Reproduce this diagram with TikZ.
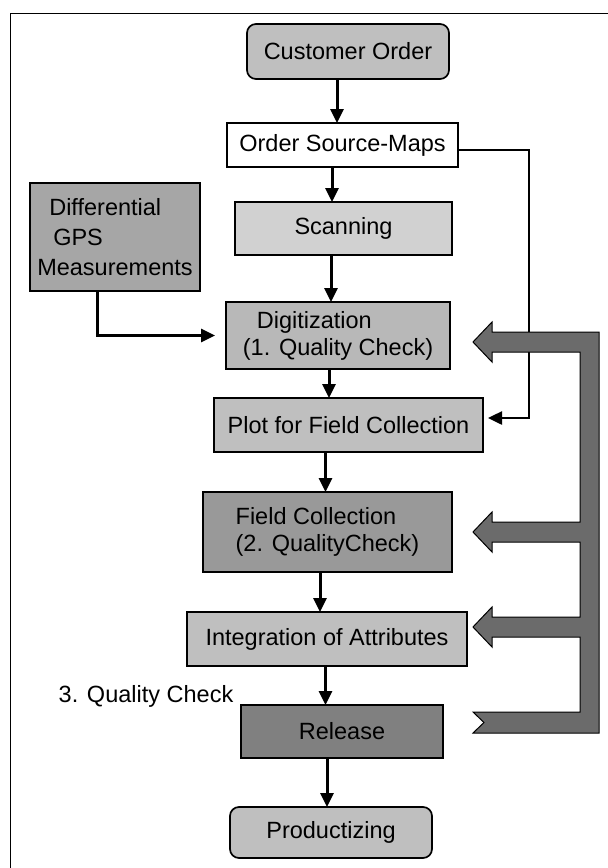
\documentclass[tikz,border=0pt]{standalone}
\usepackage{fontspec}
\setmainfont{Liberation Sans}
\usetikzlibrary{arrows.meta}
\begin{document}
\begin{tikzpicture}[x=1pt,y=-1pt,
  box/.style={draw=black,line width=1.7pt,rectangle,inner sep=0pt,outer sep=0pt,
    font=\fontsize{23.5}{27}\selectfont,text=black},
  rbox/.style={box,rounded corners=9pt},
  arr/.style={line width=3pt,-{Triangle[length=14pt,width=13pt]}},
  bigarrow/.style={draw=black,line width=1pt,fill=black!58}
]
\useasboundingbox (0,0) rectangle (608,868);
% frame
\draw[line width=1.5pt] (10.5,872) -- (10.5,13.3) -- (612,13.3);

% nodes
\node[rbox,fill=black!25,minimum width=202pt,minimum height=55pt] (cust) at (348,51.5) {Customer Order};
\node[box,fill=white,minimum width=231pt,minimum height=44pt] (osm) at (342.5,145) {Order Source-Maps};
\node[box,fill=black!18,minimum width=217pt,minimum height=53pt] (scan) at (343.5,228.5) {Scanning};
\node[box,fill=black!35,minimum width=170pt,minimum height=108pt,align=left,
  font=\fontsize{23.5}{30}\selectfont] (gps) at (115,237)
  {\hspace*{12pt}Differential\\\hspace*{16pt}GPS\\Measurements};
\node[box,fill=black!28,minimum width=224pt,minimum height=67pt,align=left] (dig) at (338,335.5)
  {\hspace*{14pt}Digitization\\(1. Quality Check)};
\node[box,fill=black!25,minimum width=269pt,minimum height=54pt] (plot) at (348.5,425) {Plot for Field Collection};
\node[box,fill=black!40,minimum width=249pt,minimum height=80pt,align=left] (field) at (327.5,532)
  {Field Collection\\(2. QualityCheck)};
\node[box,fill=black!25,minimum width=280pt,minimum height=54pt] (integ) at (327,639) {Integration of Attributes};
\node[box,fill=black!50,minimum width=202pt,minimum height=53pt] (rel) at (342,731.5) {Release};
\node[rbox,fill=black!25,minimum width=202pt,minimum height=51pt] (prod) at (331,832.5) {Productizing};
\node[anchor=base west,inner sep=0pt,font=\fontsize{23.5}{27}\selectfont] (qc) at (58.5,702) {3. Quality Check};

% vertical flow arrows
\draw[arr] (337,0 |- cust.south) -- (337,0 |- osm.north);
\draw[arr] (332,0 |- osm.south) -- (332,0 |- scan.north);
\draw[arr] (331,0 |- scan.south) -- (331,0 |- dig.north);
\draw[arr] (329,0 |- dig.south) -- (329,0 |- plot.north);
\draw[arr] (325.5,0 |- plot.south) -- (325.5,0 |- field.north);
\draw[arr] (320,0 |- field.south) -- (320,0 |- integ.north);
\draw[arr] (325.5,0 |- integ.south) -- (325.5,0 |- rel.north);
\draw[arr] (327,0 |- rel.south) -- (327,0 |- prod.north);

% GPS to digitization
\draw[arr,shorten >=11pt] (97.5,0 |- gps.south) |- (dig.west);
% order source-maps to plot
\coordinate (bend) at (529,150);
\draw[arr,line width=2.5pt,shorten >=5pt] (osm.east |- bend) -- (bend) |- (plot.east |- 0,418);

% big feedback arrow
\draw[bigarrow] (599,332) -- (599,733) -- (473,733) -- (484,722.5) -- (473,712) -- (580,712)
  -- (580,637) -- (492,637) -- (492,647) -- (473,627) -- (492,607) -- (492,617) -- (580,617)
  -- (580,542) -- (492,542) -- (492,552) -- (473,532) -- (492,512) -- (492,522) -- (580,522)
  -- (580,352) -- (492,352) -- (492,362) -- (473,342) -- (492,322) -- (492,332) -- cycle;
\end{tikzpicture}
\end{document}
